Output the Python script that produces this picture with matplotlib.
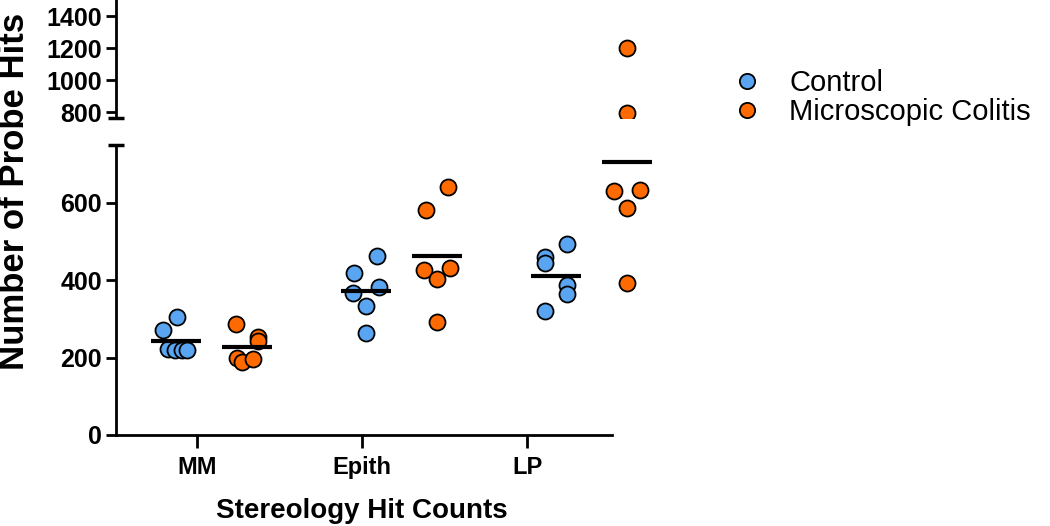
import numpy as np
import matplotlib
matplotlib.use('Agg')
import matplotlib.pyplot as plt
from matplotlib.lines import Line2D

plt.rcParams['font.family'] = ['Liberation Sans', 'DejaVu Sans']

# Data
groups = ['MM', 'Epith', 'LP']
series = ['Control', 'Microscopic Colitis']
control = [
    [305, 272, 222, 221, 219, 219],
    [463, 420, 366, 383, 334, 264],
    [495, 460, 446, 389, 364, 321],
]
colitis = [
    [286, 254, 243, 200, 189, 196],
    [641, 583, 428, 432, 403, 291],
    [1202, 796, 630, 634, 587, 394],
]

# layout (x in units of 100 px from the y axis)
tick_pos = [0.81, 2.46, 4.11]
ctrl_pos = [0.60, 2.50, 4.395]
mc_pos = [1.31, 3.21, 5.107]
ctrl_jit = [[0.01, -0.13, -0.08, -0.01, 0.06, 0.11],
            [0.11, -0.12, -0.13, 0.13, 0.0, 0.0],
            [0.11, -0.11, -0.11, 0.11, 0.11, -0.11]]
mc_jit = [[-0.11, 0.11, 0.11, -0.10, -0.05, 0.06],
          [0.11, -0.11, -0.13, 0.13, 0.0, 0.0],
          [0.0, 0.0, -0.13, 0.13, 0.0, 0.0]]

blue = '#5aa5f2'
orange = '#ff6a00'

fig = plt.figure(figsize=(10.5, 5.26), dpi=100)
W, H = 1050, 526
left, width = 116 / W, 564 / W
ax = fig.add_axes([left, (H - 435) / H, width, 290 / H])
ax_top = fig.add_axes([left, (H - 118) / H, width, 118 / H])

for a in (ax, ax_top):
    for i in range(len(groups)):
        xs = ctrl_pos[i] + np.array(ctrl_jit[i])
        a.scatter(xs, control[i], s=133, color=blue,
                  edgecolor='black', linewidth=1.3, zorder=3)
        xs = mc_pos[i] + np.array(mc_jit[i])
        a.scatter(xs, colitis[i], s=133, color=orange,
                  edgecolor='black', linewidth=1.3, zorder=3)
        a.hlines(np.mean(control[i]), ctrl_pos[i] - 0.25, ctrl_pos[i] + 0.25,
                 color='black', linewidth=3, zorder=4)
        a.hlines(np.mean(colitis[i]), mc_pos[i] - 0.25, mc_pos[i] + 0.25,
                 color='black', linewidth=3, zorder=4)
    a.set_xlim(0, 5.64)
    a.spines['top'].set_visible(False)
    a.spines['right'].set_visible(False)
    a.spines['left'].set_linewidth(2)
    a.spines['bottom'].set_linewidth(2)
    a.tick_params(axis='y', direction='out', length=7.5, width=2, labelsize=18, pad=2.5)

ax.set_ylim(0, 750)
ax.set_yticks([0, 200, 400, 600])
ax.spines['bottom'].set_bounds(0, 4.96)
ax.set_xticks(tick_pos)
ax.set_xticklabels(groups, fontsize=17, fontweight='bold')
ax.tick_params(axis='x', direction='out', length=9, width=2, pad=6)

ax_top.set_ylim(762.5, 1500)
ax_top.set_yticks([800, 1000, 1200, 1400])
ax_top.spines['bottom'].set_visible(False)
ax_top.set_xticks([])
ax_top.patch.set_alpha(0)

for a in (ax, ax_top):
    for lbl in a.get_yticklabels():
        lbl.set_fontweight('bold')

# break caps
ax.plot([0], [1], marker='_', markersize=11, mew=2.5, color='black',
        transform=ax.transAxes, clip_on=False)
ax_top.plot([0], [0], marker='_', markersize=11, mew=2.5, color='black',
            transform=ax_top.transAxes, clip_on=False)

fig.text(15 / W, 1 - 191 / H, 'Number of Probe Hits', rotation=90, ha='center',
         va='center', fontsize=25, fontweight='bold')
fig.text(361.5 / W, 1 - 518 / H, 'Stereology Hit Counts', ha='center',
         va='baseline', fontsize=20, fontweight='bold')

# legend, one entry per row so the row spacing can match
for name, c, yc in zip(series, (blue, orange), (83, 112)):
    h = Line2D([], [], marker='o', linestyle='none', markersize=11,
               markerfacecolor=c, markeredgecolor='black', markeredgewidth=1.3)
    fig.legend([h], [name], loc='center left',
               bbox_to_anchor=(732 / W, 1 - yc / H), frameon=False, fontsize=21,
               handletextpad=0.97, borderpad=0, borderaxespad=0, handlelength=1.0)

fig.savefig('out.png', dpi=100)
